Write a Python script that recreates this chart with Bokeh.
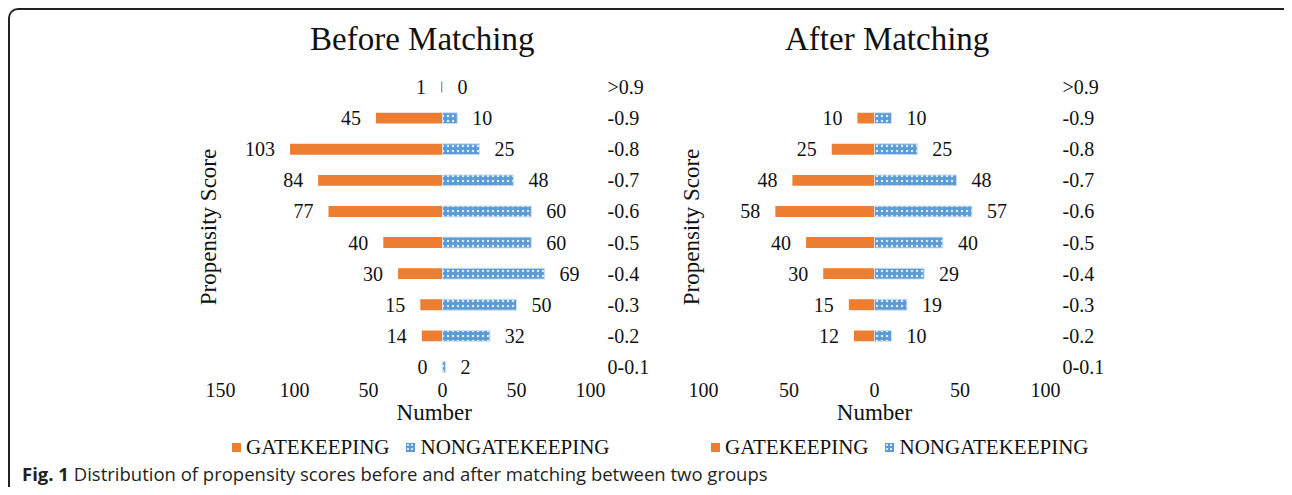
from bokeh.plotting import figure
from bokeh.models import (FactorRange, Range1d, FixedTicker, CustomJSTickFormatter, CategoricalAxis,
                          ColumnDataSource, Div)
from bokeh.layouts import row, column
from bokeh.core.properties import value
from bokeh.embed import file_html
from bokeh.resources import INLINE

# ---------------- data ----------------
categories = [">0.9", "-0.9", "-0.8", "-0.7", "-0.6", "-0.5", "-0.4", "-0.3", "-0.2", "0-0.1"]
before_gatekeeping = [1, 45, 103, 84, 77, 40, 30, 15, 14, 0]
before_nongatekeeping = [0, 10, 25, 48, 60, 60, 69, 50, 32, 2]
after_categories = ["-0.9", "-0.8", "-0.7", "-0.6", "-0.5", "-0.4", "-0.3", "-0.2"]
after_gatekeeping = [10, 25, 48, 58, 40, 30, 15, 12]
after_nongatekeeping = [10, 25, 48, 57, 40, 29, 19, 10]
before_ticks = [-150, -100, -50, 0, 50, 100]
after_ticks = [-100, -50, 0, 50, 100]
series_names = ["GATEKEEPING", "NONGATEKEEPING"]
chart_titles = ["Before Matching", "After Matching"]
caption_text = "<b>Fig. 1</b> Distribution of propensity scores before and after matching between two groups"

SERIF = "Liberation Serif"
ORANGE = "#ed7d31"
BLUE = "#5b9bd5"
TEXT = "#111111"


def make_chart(cats, gk, ng, ticks, xr, w, h, borders, number_label):
    p = figure(width=w, height=h, x_range=Range1d(*xr), title=None,
               y_range=FactorRange(factors=list(reversed(categories))),
               y_axis_location="right", output_backend="svg", toolbar_location=None,
               min_border_left=borders[0], min_border_right=borders[1],
               min_border_top=borders[2], min_border_bottom=borders[3])
    p.outline_line_color = None
    p.xgrid.visible = False
    p.ygrid.visible = False
    p.background_fill_color = "white"
    p.border_fill_color = "white"

    src_gk = ColumnDataSource(dict(y=cats, x=[-v for v in gk], label=[str(v) for v in gk]))
    src_ng = ColumnDataSource(dict(y=cats, x=list(ng), label=[str(v) for v in ng]))

    p.hbar(y="y", left=0, right="x", height=0.35, source=src_gk,
           fill_color=ORANGE, line_color=None)
    p.hbar(y="y", left=0, right="x", height=0.35, source=src_ng,
           fill_color=BLUE, line_color="#cfe0f2", line_width=1,
           hatch_pattern="dot", hatch_color="#dde9f7", hatch_scale=5, hatch_weight=2)

    p.text(x="x", y="y", text="label", source=src_gk, x_offset=-15,
           text_align="right", text_baseline="middle",
           text_font=value(SERIF), text_font_size=value("20px"), text_color=TEXT)
    p.text(x="x", y="y", text="label", source=src_ng, x_offset=15,
           text_align="left", text_baseline="middle",
           text_font=value(SERIF), text_font_size=value("20px"), text_color=TEXT)

    xa = p.xaxis[0]
    xa.ticker = FixedTicker(ticks=ticks)
    xa.formatter = CustomJSTickFormatter(code="return Math.abs(tick).toString();")
    xa.axis_line_color = None
    xa.major_tick_line_color = None
    xa.minor_tick_line_color = None
    xa.major_tick_out = 0
    xa.major_label_standoff = 0
    xa.major_label_text_font = SERIF
    xa.major_label_text_font_size = "20px"
    xa.major_label_text_color = TEXT
    xa.axis_label = number_label
    xa.axis_label_standoff = 0
    xa.axis_label_text_font = SERIF
    xa.axis_label_text_font_size = "23px"
    xa.axis_label_text_font_style = "normal"
    xa.axis_label_text_color = TEXT

    ya = p.yaxis[0]
    ya.axis_line_color = None
    ya.major_tick_line_color = None
    ya.major_tick_out = 0
    ya.major_label_standoff = 17
    ya.major_label_text_font = SERIF
    ya.major_label_text_font_size = "20px"
    ya.major_label_text_color = TEXT

    la = CategoricalAxis(axis_label="Propensity Score", axis_label_text_font=SERIF,
                         axis_label_text_font_size="23px", axis_label_text_font_style="normal",
                         axis_label_text_color=TEXT, axis_label_standoff=0,
                         major_label_text_font_size="0px",
                         axis_line_color=None, major_tick_line_color=None,
                         major_tick_out=0, major_label_standoff=0)
    p.add_layout(la, "left")
    return p


def title_div(text, w, indent):
    return Div(text=text, width=w, height=58, margin=0,
               styles={"font-family": "'Liberation Serif', serif", "font-size": "33px",
                       "line-height": "58px", "text-indent": f"{indent}px",
                       "max-height": "58px", "overflow": "hidden",
                       "white-space": "nowrap", "color": TEXT})


def legend_div(w, indent):
    sq = ("display:inline-block;width:9px;height:9px;margin-right:5px;"
          "vertical-align:middle;position:relative;top:-2px;")
    blue_bg = ("background:radial-gradient(circle, #dde9f7 0.8px, transparent 1.3px) 0 0/4px 4px,"
               + BLUE + ";")
    html = (f'<span style="{sq}background:{ORANGE};"></span>{series_names[0]}'
            f'<span style="{sq}{blue_bg}margin-left:17px;"></span>{series_names[1]}')
    return Div(text=html, width=w, height=26, margin=0,
               styles={"font-family": "'Liberation Serif', serif", "font-size": "21px",
                       "line-height": "26px", "text-indent": f"{indent}px",
                       "max-height": "26px", "overflow": "hidden",
                       "white-space": "nowrap", "color": TEXT})


p1 = make_chart(categories, before_gatekeeping, before_nongatekeeping,
                before_ticks, (-150, 100), 654, 366, (210, 74, 0, 52),
                "\u00a0" * 10 + "Number")
p2 = make_chart(after_categories, after_gatekeeping, after_nongatekeeping,
                after_ticks, (-100, 100), 620, 366, (39, 239, 3, 49), "Number")

caption = Div(text=caption_text, width=1274, height=27, margin=0,
              styles={"font-family": "'Open Sans', sans-serif", "font-size": "18.5px",
                      "line-height": "27px", "text-indent": "12px", "white-space": "nowrap",
                      "max-height": "27px", "overflow": "hidden", "color": "#231f20"})

layout = column(row(title_div(chart_titles[0], 654, 300), title_div(chart_titles[1], 620, 121), spacing=0),
                row(p1, p2, spacing=0),
                row(legend_div(654, 222), legend_div(620, 47), spacing=0),
                caption, spacing=0,
                styles={"margin-left": "8px", "margin-top": "8px",
                        "border-top": "2px solid #222", "border-left": "2px solid #222",
                        "border-top-left-radius": "10px"})

open("out.html", "w").write(file_html(layout, INLINE))
